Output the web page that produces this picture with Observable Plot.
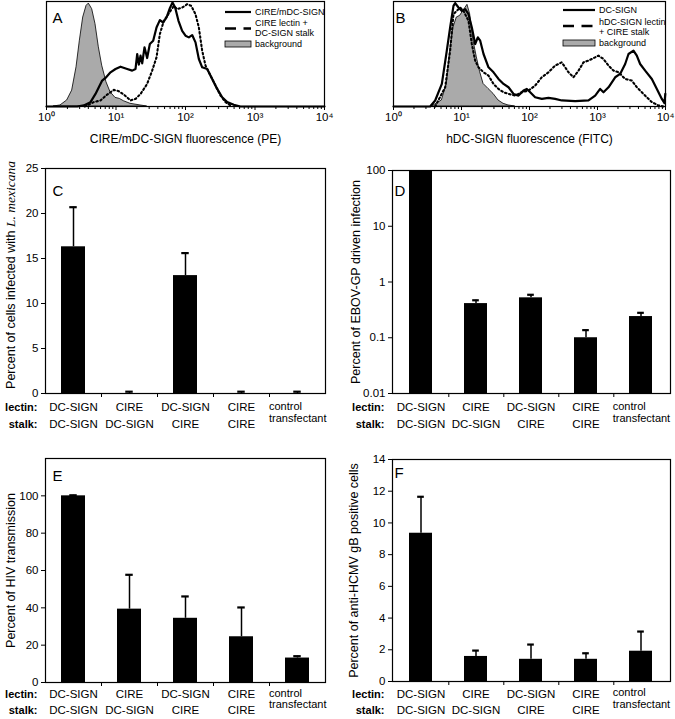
<!DOCTYPE html>
<html><head><meta charset="utf-8">
<script src="https://cdn.jsdelivr.net/npm/d3@7"></script>
<script src="https://cdn.jsdelivr.net/npm/@observablehq/plot@0.6"></script>
<style>
body{margin:0;background:#fff;}
#fig{position:relative;width:675px;height:719px;overflow:hidden;background:#fff;font-family:"Liberation Sans",Arial,Helvetica,sans-serif;}
#fig svg{position:absolute;}
</style></head><body><div id="fig"></div>
<script>
// ---------- DATA ----------
// histograms: [log10(fluorescence), % of max]
const A_background = [[0.106,0],[0.201,1],[0.297,5.8],[0.369,15.3],[0.432,37.7],[0.480,63.3],[0.528,85.6],[0.576,96.8],[0.609,99],[0.657,93.6],[0.705,79.2],[0.753,56.9],[0.801,39.3],[0.863,23.3],[0.921,13.7],[0.993,8.3],[1.055,7.3],[1.113,5.1],[1.209,2.6],[1.353,1],[1.448,0]];
const A_solid = [[0,0],[0.441,0],[0.537,1],[0.633,4.2],[0.705,12.1],[0.753,18.5],[0.801,24.9],[0.849,27.5],[0.921,32.9],[0.993,36.1],[1.065,38.3],[1.161,36.1],[1.233,34.5],[1.281,36.1],[1.305,50.5],[1.329,40.3],[1.353,48.9],[1.377,41.5],[1.410,56.9],[1.448,46.6],[1.487,60.1],[1.535,63.3],[1.583,76.0],[1.631,83.1],[1.679,80.8],[1.727,85.6],[1.775,94.6],[1.813,100],[1.851,95.2],[1.899,82.4],[1.952,72.8],[2.0,68.1],[2.048,66.5],[2.096,68.7],[2.144,61.7],[2.192,45.7],[2.240,37.7],[2.312,36.1],[2.384,26.5],[2.456,16.9],[2.528,8.9],[2.600,4.2],[2.695,1.6],[2.791,0],[4,0]];
const A_dotted = [[0.55,0],[0.681,4.2],[0.777,5.8],[0.873,11.5],[0.969,16],[1.041,14.7],[1.113,11.5],[1.209,5.8],[1.281,7.3],[1.353,12.1],[1.448,21.7],[1.520,34.5],[1.583,47.3],[1.631,69.6],[1.688,82.4],[1.736,87.2],[1.784,92],[1.832,96.8],[1.880,93.6],[1.952,95.2],[2.024,98.4],[2.082,96.8],[2.144,88.8],[2.192,76],[2.240,53.7],[2.288,39.3],[2.360,29.7],[2.432,20.1],[2.504,10.5],[2.576,4.2],[2.647,1]];

const B_background = [[0.564,0],[0.711,5.8],[0.784,21.7],[0.833,53.7],[0.882,76],[0.931,85.6],[0.980,87.2],[1.029,92],[1.088,97.8],[1.127,88.8],[1.176,63.3],[1.225,47.3],[1.275,32.9],[1.324,21.7],[1.397,16.9],[1.471,12.1],[1.544,5.8],[1.618,2.6],[1.691,1],[1.789,0]];
const B_solid = [[0,0],[0.539,0],[0.613,5.8],[0.711,21.7],[0.784,53.7],[0.833,76],[0.882,96.8],[0.907,99.5],[0.956,95.2],[1.005,92],[1.054,93.6],[1.103,88.8],[1.152,76],[1.201,60.1],[1.240,66.5],[1.275,63.3],[1.324,50.5],[1.397,37.7],[1.471,32.9],[1.544,26.5],[1.618,21.7],[1.691,18.5],[1.765,12.1],[1.838,10.5],[1.912,15.3],[1.961,16.9],[2.010,13.7],[2.083,8.9],[2.181,7.3],[2.279,8.3],[2.377,7.3],[2.475,5.8],[2.672,5.1],[2.868,5.8],[2.966,10.5],[3.039,16.9],[3.088,13.7],[3.162,18.5],[3.260,28.1],[3.333,31.3],[3.407,40.9],[3.456,50.5],[3.529,53.7],[3.578,48.9],[3.627,40.9],[3.701,34.5],[3.799,26.5],[3.873,16.9],[3.946,7.3],[3.985,3.2],[3.997,12.1]];
const B_dotted = [[0.613,0],[0.760,18.5],[0.833,53.7],[0.882,88.8],[0.931,92],[0.980,95.2],[1.029,92],[1.103,82.4],[1.152,60.1],[1.201,44.1],[1.250,37.7],[1.324,32.9],[1.397,29.7],[1.471,21.7],[1.544,16.9],[1.618,13.7],[1.691,12.1],[1.789,10.5],[1.887,13.7],[1.985,15.3],[2.083,20.1],[2.181,28.1],[2.279,32.9],[2.377,39.3],[2.475,42.5],[2.574,32.9],[2.647,28.1],[2.721,34.5],[2.794,42.5],[2.868,44.1],[2.966,47.3],[3.015,48.9],[3.088,45.7],[3.162,39.3],[3.235,34.5],[3.309,32.9],[3.407,26.5],[3.505,24.9],[3.578,18.5],[3.652,13.7],[3.725,8.9],[3.799,4.2],[3.897,1],[3.971,0]];

const logMajorTicks = [1, 10, 100, 1000, 10000];
const logMajorLabels = ["10⁰", "10¹", "10²", "10³", "10⁴"];
const logMinorTicks = [2,3,4,5,6,7,8,9,20,30,40,50,60,70,80,90,200,300,400,500,600,700,800,900,2000,3000,4000,5000,6000,7000,8000,9000];

// bar panels
const lectin = ["DC-SIGN", "CIRE", "DC-SIGN", "CIRE", "control"];
const stalk  = ["DC-SIGN", "DC-SIGN", "CIRE", "CIRE", "transfectant"];

const C_values = [16.3, 0, 13.1, 0, 0];
const C_errors = [20.7, 0.2, 15.6, 0.2, 0.2];
const C_ticks = [0, 5, 10, 15, 20, 25];

const D_values = [100, 0.41, 0.52, 0.1, 0.24];
const D_errors = [null, 0.47, 0.59, 0.137, 0.28];
const D_ticks = [0.01, 0.1, 1, 10, 100];

const E_values = [100, 39.3, 34.4, 24.5, 13.1];
const E_errors = [100.3, 57.7, 46.1, 40.2, 14.1];
const E_ticks = [0, 20, 40, 60, 80, 100];

const F_values = [9.35, 1.58, 1.4, 1.4, 1.91];
const F_errors = [11.65, 1.95, 2.33, 1.78, 3.15];
const F_ticks = [0, 2, 4, 6, 8, 10, 12, 14];

// ---------- DRAWING ----------
const FONT = '"Liberation Sans", Arial, Helvetica, sans-serif';
const fig = document.getElementById("fig");
function place(svg, left, top) {
  svg.style.position = "absolute";
  svg.style.left = left + "px";
  svg.style.top = top + "px";
  fig.appendChild(svg);
}

function histPlot({bg, solid, dotted, xlabel, letter, letterDx, left, width, ml, mr}) {
  const pts = arr => arr.map(([l, p]) => ({x: Math.pow(10, l), y: p}));
  const svg = Plot.plot({
    width, height: 150, marginLeft: ml, marginRight: mr, marginTop: 1, marginBottom: 44,
    style: {fontFamily: FONT, fontSize: "11px", background: "transparent", color: "#000", overflow: "visible"},
    x: {type: "log", domain: [1, 10000]},
    y: {domain: [0, 101], axis: null},
    marks: [
      Plot.areaY(pts(bg), {x: "x", y: "y", fill: "#aaaaaa", stroke: "#000", strokeWidth: 0.8}),
      Plot.lineY(pts(dotted), {x: "x", y: "y", stroke: "#000", strokeWidth: 2.1, strokeDasharray: "1.6,2.6"}),
      Plot.lineY(pts(solid), {x: "x", y: "y", stroke: "#000", strokeWidth: 2.2}),
      Plot.frame({stroke: "#000", strokeWidth: 1.2}),
      Plot.axisX(logMinorTicks, {tickSize: 3, tickFormat: () => "", label: null}),
      Plot.axisX(logMajorTicks, {tickSize: 4, tickPadding: 2, fontSize: 11.5,
        tickFormat: d => logMajorLabels[logMajorTicks.indexOf(d)], label: null}),
      Plot.text([xlabel], {text: d => d, frameAnchor: "bottom", dy: 36, fontSize: 12}),
      Plot.text([letter], {text: d => d, frameAnchor: "top-left", dx: letterDx, dy: 11, textAnchor: "start", fontSize: 15})
    ]
  });
  place(svg, left, 0);
}

histPlot({bg: A_background, solid: A_solid, dotted: A_dotted, xlabel: "CIRE/mDC-SIGN fluorescence (PE)",
  letter: "A", letterDx: 6, left: 0, width: 340, ml: 46, mr: 16});
histPlot({bg: B_background, solid: B_solid, dotted: B_dotted, xlabel: "hDC-SIGN fluorescence (FITC)",
  letter: "B", letterDx: 2, left: 335, width: 340, ml: 58, mr: 10});

function barPlot(o) {
  const groups = lectin.map((l, i) => l + "/" + stalk[i]);
  const data = groups.map((g, i) => ({g, lectin: lectin[i], stalk: stalk[i], v: o.values[i], e: o.errors[i]}));
  const errData = data.filter(d => d.e != null);
  const plotW = o.width - o.ml - o.mr;
  const step = plotW / groups.length;
  const pIn = 0.58;
  const bw = step * (1 - pIn);
  const capInset = (bw - 7) / 2;
  const isLog = o.type === "log";
  const base = o.domain[0];
  const first4 = data.slice(0, 4);
  const last = data.slice(4);
  const svg = Plot.plot({
    width: o.width, height: o.height, marginLeft: o.ml, marginRight: o.mr, marginTop: o.mt, marginBottom: o.mb,
    style: {fontFamily: FONT, fontSize: "11px", background: "transparent", color: "#000", overflow: "visible"},
    x: {domain: groups, paddingInner: pIn, paddingOuter: pIn / 2},
    y: {type: isLog ? "log" : "linear", domain: o.domain},
    marks: [
      Plot.barY(data, {x: "g", y1: () => base, y2: "v", fill: "#000"}),
      Plot.ruleX(errData, {x: "g", y1: "v", y2: "e", stroke: "#000", strokeWidth: 1.5}),
      Plot.tickY(errData, {x: "g", y: "e", stroke: "#000", strokeWidth: 2.2, insetLeft: capInset, insetRight: capInset}),
      Plot.frame({stroke: "#000", strokeWidth: 1.2}),
      Plot.axisY(o.ticks, {tickSize: 4, tickPadding: 3, fontSize: 11.5, label: null,
        tickFormat: d => String(d)}),
      Plot.axisX(groups.slice(0, 4), {tickSize: 4, tickFormat: () => "", label: null, dx: step / 2}),
      Plot.text(first4, {x: "g", text: "lectin", frameAnchor: "bottom", dy: o.r1, fontSize: 11.5}),
      Plot.text(first4, {x: "g", text: "stalk", frameAnchor: "bottom", dy: o.r2, fontSize: 11.5}),
      Plot.text(last, {x: "g", text: "lectin", frameAnchor: "bottom", dy: o.c1, textAnchor: "start", dx: -step / 2 - 0.5, fontSize: 11}),
      Plot.text(last, {x: "g", text: "stalk", frameAnchor: "bottom", dy: o.c2, textAnchor: "start", dx: -step / 2 - 0.5, fontSize: 11}),
      Plot.text(["lectin:"], {text: d => d, frameAnchor: "bottom-left", dx: -8, dy: o.r1, textAnchor: "end", fontWeight: "bold", fontSize: 11}),
      Plot.text(["stalk:"], {text: d => d, frameAnchor: "bottom-left", dx: -8, dy: o.r2, textAnchor: "end", fontWeight: "bold", fontSize: 11}),
      Plot.text([o.ylabel], {text: d => d, frameAnchor: "left", textAnchor: "middle", rotate: -90, dx: o.ylDx, dy: o.ylDy || 0, fontSize: 12.5}),
      Plot.text([o.letter], {text: d => d, frameAnchor: "top-left", dx: o.lDx, dy: o.lDy, textAnchor: "start", fontSize: 15})
    ]
  });
  if (o.italic) {
    d3.select(svg).selectAll("text").filter(function() { return this.textContent === o.ylabel; })
      .each(function() {
        const t = d3.select(this);
        t.text(null);
        t.append("tspan").text(o.ylabel.slice(0, o.ylabel.length - o.italic.length));
        t.append("tspan").attr("font-style", "italic").attr("font-family", '"Liberation Serif", "Times New Roman", serif').attr("font-size", 13.5).text(o.italic);
      });
  }
  place(svg, o.left, o.top);
}

barPlot({values: C_values, errors: C_errors, ticks: C_ticks, domain: [0, 25],
  left: 0, top: 135, width: 335, height: 300, ml: 45, mr: 10, mt: 33, mb: 42,
  r1: 17, r2: 34, c1: 16.5, c2: 28.5, letter: "C", lDx: 7, lDy: 17,
  ylabel: "Percent of cells infected with L. mexicana", italic: "L. mexicana", ylDx: -35, ylDy: -6});
barPlot({values: D_values, errors: D_errors, ticks: D_ticks, domain: [0.01, 100], type: "log",
  left: 335, top: 135, width: 340, height: 300, ml: 57, mr: 5, mt: 35, mb: 42,
  r1: 17, r2: 34, c1: 16.5, c2: 28.5, letter: "D", lDx: 2, lDy: 15,
  ylabel: "Percent of EBOV-GP driven infection", ylDx: -37});
barPlot({values: E_values, errors: E_errors, ticks: E_ticks, domain: [0, 120],
  left: 0, top: 430, width: 335, height: 289, ml: 45, mr: 10, mt: 28, mb: 37,
  r1: 15, r2: 31, c1: 14, c2: 25.5, letter: "E", lDx: 7, lDy: 12,
  ylabel: "Percent of HIV transmission", ylDx: -35});
barPlot({values: F_values, errors: F_errors, ticks: F_ticks, domain: [0, 14],
  left: 335, top: 430, width: 340, height: 289, ml: 57, mr: 5, mt: 29, mb: 38,
  r1: 16, r2: 32, c1: 14.5, c2: 26, letter: "F", lDx: 2, lDy: 8,
  ylabel: "Percent of anti-HCMV gB positive cells", ylDx: -39});

// ---------- LEGENDS (overlay) ----------
const ov = d3.select("#fig").append("svg").attr("width", 675).attr("height", 719)
  .style("left", "0px").style("top", "0px").style("pointer-events", "none")
  .attr("font-family", FONT).attr("font-size", 9);
function legend(x0, x1, tx, items) {
  const [solidLabel, dashLines, bgLabel, ys] = items;
  ov.append("line").attr("x1", x0).attr("x2", x1).attr("y1", ys[0]).attr("y2", ys[0]).attr("stroke", "#000").attr("stroke-width", 2.2);
  ov.append("text").attr("x", tx).attr("y", ys[0]).attr("dominant-baseline", "central").text(solidLabel);
  ov.append("line").attr("x1", x0).attr("x2", x1).attr("y1", ys[1]).attr("y2", ys[1]).attr("stroke", "#000").attr("stroke-width", 2.6).attr("stroke-dasharray", "11,7.5");
  ov.append("text").attr("x", tx).attr("y", ys[2]).attr("dominant-baseline", "central").text(dashLines[0]);
  ov.append("text").attr("x", tx).attr("y", ys[3]).attr("dominant-baseline", "central").text(dashLines[1]);
  ov.append("rect").attr("x", x0).attr("y", ys[4] - 3).attr("width", x1 - x0).attr("height", 6).attr("fill", "#aaaaaa").attr("stroke", "#000").attr("stroke-width", 0.8);
  ov.append("text").attr("x", tx).attr("y", ys[4]).attr("dominant-baseline", "central").text(bgLabel);
}
legend(225, 251, 255, ["CIRE/mDC-SIGN", ["CIRE lectin +", "DC-SIGN stalk"], "background", [12, 28.5, 23, 32.5, 44]]);
legend(563, 595, 599, ["DC-SIGN", ["hDC-SIGN lectin", "+ CIRE stalk"], "background", [10, 26, 22, 32, 43]]);
</script>
</body></html>
